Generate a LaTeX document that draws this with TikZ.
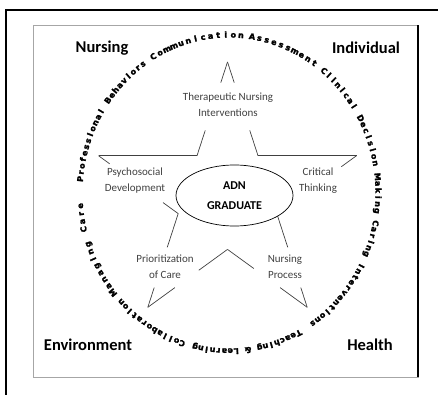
\documentclass[tikz,border=0pt]{standalone}
\usepackage{fontspec}
\setmainfont{Carlito}
\newfontfamily\ringfont{DejaVu Sans}[BoldFeatures={FakeBold=2.5}]
\usetikzlibrary{calc,shapes.geometric}
\definecolor{labelgray}{HTML}{404040}

% letters set one by one on the ring, spread to fill the arc
\newlength\ringw
\newcommand\ringfmt{\ringfont\bfseries\fontsize{8}{9}\selectfont}
\newcommand\ringtext[3]{%
  \gdef\ringsum{0}\gdef\ringn{0}%
  \foreach \ch in {#3} {%
    \if\ch*\settowidth\ringw{\ringfmt\ }\else\settowidth\ringw{\ringfmt\ch}\fi
    \pgfmathsetmacro\tmp{\ringsum+\ringw}\global\let\ringsum\tmp
    \pgfmathsetmacro\tmp{\ringn+1}\global\let\ringn\tmp
  }%
  \pgfmathsetmacro\ringk{2.71394*sqrt((0.94212*sin((#1+#2)/2))^2+(cos((#1+#2)/2))^2)}%
  \pgfmathsetmacro\ringtrack{((#1-(#2))*\ringk-\ringsum)/(\ringn-1)}%
  \gdef\ringpos{#1}%
  \foreach \ch in {#3} {%
    \if\ch*\settowidth\ringw{\ringfmt\ }\else\settowidth\ringw{\ringfmt\ch}\fi
    \pgfmathsetmacro\ringmid{\ringpos-\ringw/2/\ringk}%
    \if\ch*\else
      \node[ringchar, rotate=\ringmid-90] at ({229+146.5*cos(\ringmid)},{201+155.5*sin(\ringmid)}) {\ch};
    \fi
    \pgfmathsetmacro\tmp{\ringpos-(\ringw+\ringtrack)/\ringk}\global\let\ringpos\tmp
  }%
}

\begin{document}
\begin{tikzpicture}[x=1pt, y=1pt,
    edge/.style={labelgray, line width=0.7pt},
    lbl/.style={labelgray, align=center, font=\fontsize{11}{16}\selectfont},
    corner/.style={font=\fontsize{16.5}{20}\selectfont\bfseries},
    ringchar/.style={inner sep=0pt, anchor=base, font=\ringfmt}]

    \useasboundingbox (0,0) rectangle (438,394);
    \clip (0,0) rectangle (438,394);

    % frames
    \draw[line width=2pt] (6,-5) -- (6,384) -- (445,384);
    \draw[gray!70, line width=0.9pt] (33,17) rectangle (418,369);
    \draw[line width=1.8pt] (418,17) -- (418,369);

    % star points
    \coordinate (o1) at (227.5, 332.0);
    \coordinate (i1) at (258.0, 238.3);
    \coordinate (o2) at (356.5, 238.3);
    \coordinate (i2) at (276.8, 180.4);
    \coordinate (o3) at (307.2, 86.7);
    \coordinate (i3) at (227.5, 144.6);
    \coordinate (o4) at (147.8, 86.7);
    \coordinate (i4) at (178.2, 180.4);
    \coordinate (o5) at (98.5, 238.3);
    \coordinate (i5) at (197.0, 238.3);

    \draw[edge] (o1) -- ($(o1)!0.22!(i5)$) ($(o1)!0.73!(i5)$) -- (i5);
    \draw[edge] (i5) -- (o5);
    \draw[edge] (o5) -- ($(o5)!0.14!(i4)$) ($(o5)!0.81!(i4)$) -- (i4);
    \draw[edge] (i4) -- ($(i4)!0.36!(o4)$) ($(i4)!0.79!(o4)$) -- (o4);
    \draw[edge] (o4) -- ($(o4)!0.34!(i3)$) ($(o4)!0.64!(i3)$) -- (i3);
    \draw[edge] (i3) -- ($(i3)!0.33!(o3)$) ($(i3)!0.66!(o3)$) -- (o3);
    \draw[edge] (o3) -- ($(o3)!0.21!(i2)$) ($(o3)!0.64!(i2)$) -- (i2);
    \draw[edge] (i2) -- ($(i2)!0.18!(o2)$) ($(i2)!0.81!(o2)$) -- (o2);
    \draw[edge] (o2) -- (i1);
    \draw[edge] (i1) -- ($(i1)!0.27!(o1)$) ($(i1)!0.78!(o1)$) -- (o1);

    % centre
    \node (grad) at (234.5,198.5) [draw, ellipse, line width=0.7pt, fill=white,
        minimum width=117pt, minimum height=61pt, inner sep=0pt, align=center,
        font=\fontsize{12}{20}\selectfont\bfseries] {ADN\\GRADUATE};

    % star labels
    \node (ther) at (228,289) [lbl] {Therapeutic Nursing\\Interventions};
    \node (psych) at (135,213) [lbl] {Psychosocial\\Development};
    \node (crit) at (318,213) [lbl] {Critical\\Thinking};
    \node (prio) at (165,127) [lbl] {Prioritization\\of Care};
    \node (nproc) at (285,127) [lbl] {Nursing\\Process};

    % corners
    \node (nursing) at (102,346) [corner] {Nursing};
    \node (individual) at (366,346) [corner] {Individual};
    \node (environment) at (88,49) [corner] {Environment};
    \node (health) at (370,49) [corner] {Health};

    % ring of words (* = gap between words)
    \ringtext{120.5}{85.4}{C,o,m,m,u,n,i,c,a,t,i,o,n}
    \ringtext{81.1}{55.1}{A,s,s,e,s,s,m,e,n,t}
    \ringtext{50.5}{-6.5}{C,l,i,n,i,c,a,l,*,D,e,c,i,s,i,o,n,*,M,a,k,i,n,g}
    \ringtext{-11.0}{-55.7}{C,a,r,i,n,g,*,I,n,t,e,r,v,e,n,t,i,o,n,s}
    \ringtext{-62.1}{-103.2}{T,e,a,c,h,i,n,g,*,\&,*,L,e,a,r,n,i,n,g}
    \ringtext{-108.3}{-136.4}{C,o,l,l,a,b,o,r,a,t,i,o,n}
    \ringtext{-141.0}{-175.3}{M,a,n,a,g,i,n,g,*,C,a,r,e}
    \ringtext{174.9}{125.3}{P,r,o,f,e,s,s,i,o,n,a,l,*,B,e,h,a,v,i,o,r,s}

\end{tikzpicture}
\end{document}
